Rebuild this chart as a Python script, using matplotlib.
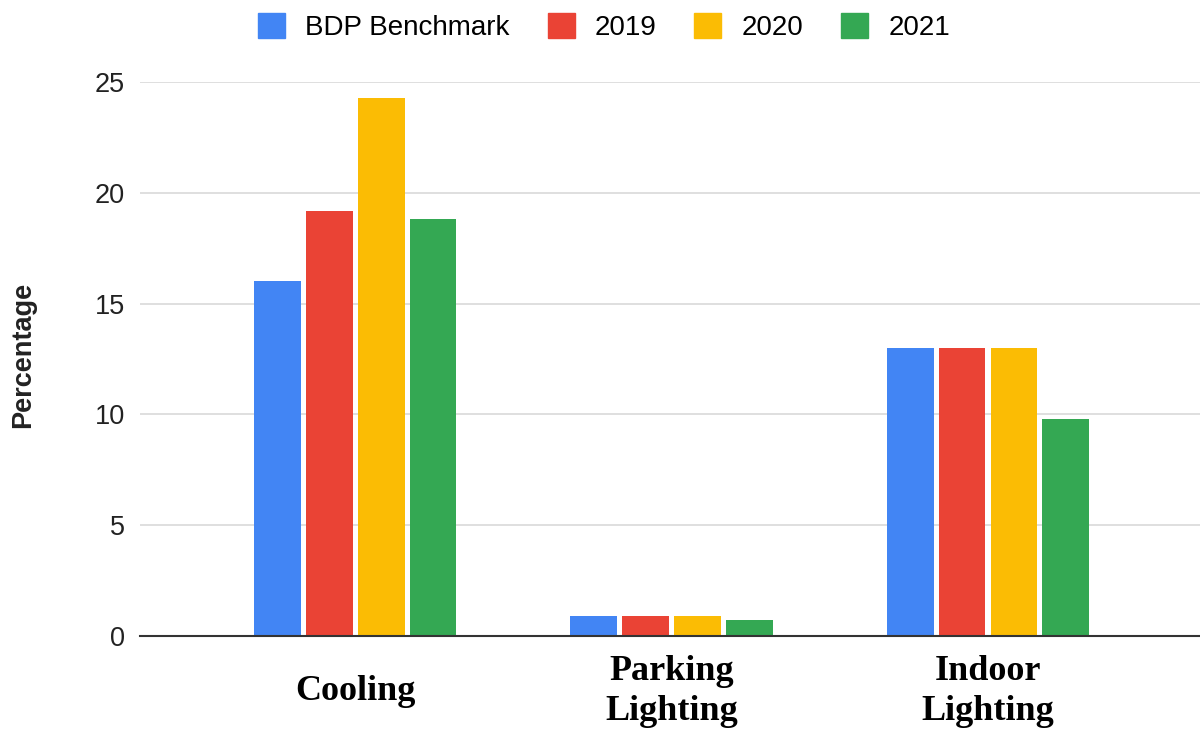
import matplotlib
matplotlib.use("Agg")
import matplotlib.pyplot as plt
from matplotlib.patches import Patch
import numpy as np

categories = ["Cooling", "Parking\nLighting", "Indoor\nLighting"]
series_names = ["BDP Benchmark", "2019", "2020", "2021"]
bdp = [16.0, 0.9, 13.0]
y2019 = [19.2, 0.9, 13.0]
y2020 = [24.3, 0.9, 13.0]
y2021 = [18.8, 0.7, 9.8]
colors = ["#4285F4", "#EA4335", "#FBBC04", "#34A853"]
yticks = [0, 5, 10, 15, 20, 25]

series = [bdp, y2019, y2020, y2021]

fig = plt.figure(figsize=(12, 7.31), dpi=100)
ax = fig.add_axes([140/1200, 1-636/731, 1-140/1200, (636-82)/731])

x = np.arange(len(categories))
pitch = 0.164
width = 0.148
for i, (vals, col) in enumerate(zip(series, colors)):
    ax.bar(x + (i - 1.5) * pitch, vals, width=width, color=col, zorder=3)

ax.set_xlim(-0.68, 2.67)
ax.set_ylim(0, 25)
ax.set_yticks(yticks)
ax.set_yticklabels([str(t) for t in yticks], fontsize=19.5, color="#222222",
                   family="Liberation Sans")
ax.tick_params(axis="y", length=0, pad=11)
ax.tick_params(axis="x", length=0, pad=40)
ax.set_xticks(x)
ax.set_xticklabels(categories, fontsize=26, fontweight="bold",
                   family="Liberation Serif", linespacing=1.27, va="center")
ax.grid(axis="y", color="#d9d9d9", linewidth=1.2, zorder=0)
for s in ["top", "right", "left"]:
    ax.spines[s].set_visible(False)
ax.spines["bottom"].set_color("#333333")
ax.spines["bottom"].set_linewidth(1.5)
ax.spines["bottom"].set_zorder(4)

fig.text(23/1200, 1-355/731, "Percentage", rotation=90, fontsize=19.5,
         fontweight="bold", family="Liberation Sans", ha="center", va="center",
         color="#222222")

handles = [Patch(facecolor=c, edgecolor=c) for c in colors]
fig.legend(handles, series_names, loc="center", bbox_to_anchor=(604/1200, 1-27/731),
           ncol=4, frameon=False, handlelength=0.97, handleheight=1.0,
           handletextpad=0.72, columnspacing=1.37,
           prop={"family": "Liberation Sans", "size": 20})

fig.savefig("out.png", dpi=100, facecolor="white")
